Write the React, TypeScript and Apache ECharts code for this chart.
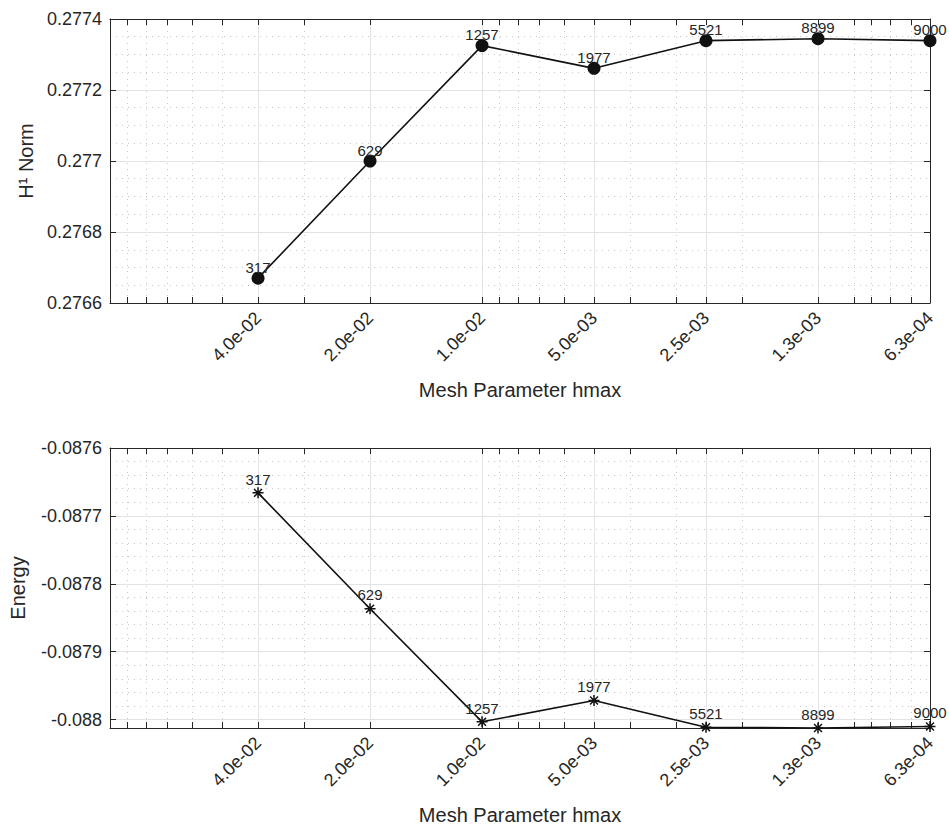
import React, { useEffect, useRef } from 'react';
import * as echarts from 'echarts';

// ---- data ----
const hmax = [0.04, 0.02, 0.01, 0.005, 0.0025, 0.00125, 0.000625];
const xTickLabels = ['4.0e-02', '2.0e-02', '1.0e-02', '5.0e-03', '2.5e-03', '1.3e-03', '6.3e-04'];
const dofs = [317, 629, 1257, 1977, 5521, 8899, 9000];
const h1Norm = [0.27667, 0.277, 0.277325, 0.277261, 0.277339, 0.2773445, 0.277339];
const energy = [-0.0876661, -0.0878368, -0.0880034, -0.087972, -0.0880113, -0.0880125, -0.0880103];
const xLimits = [0.000625, 0.1];
const normTicks = [0.2766, 0.2768, 0.277, 0.2772, 0.2774];
const energyTicks = [-0.088, -0.0879, -0.0878, -0.0877, -0.0876];

const FONT = '"Liberation Sans", Arial, Helvetica, sans-serif';
const TXT = '#262626';
const GRID_MAJOR = '#e3e3e3';
const GRID_MINOR = '#c8c8c8';
const DOT: number[] = [1, 5];

const lx = (v: number) => Math.log10(v);
const xMajors = hmax.map(lx);
// standard log10 minor positions within the x range, excluding the custom majors
const xMinors: number[] = [];
for (let e = -5; e <= 0; e++) {
  for (let m = 1; m <= 9; m++) {
    const v = m * Math.pow(10, e);
    if (v < xLimits[0] * 0.9999 || v > xLimits[1] * 1.0001) continue;
    const l = lx(v);
    if (xMajors.some((t) => Math.abs(t - l) < 1e-6)) continue;
    if (Math.abs(l - lx(xLimits[1])) < 1e-9) continue;
    xMinors.push(l);
  }
}
const xAllTicks = [...xMajors, ...xMinors];

const xLabelFmt = (v: number) => {
  const i = xMajors.findIndex((t) => Math.abs(t - v) < 1e-6);
  return i >= 0 ? xTickLabels[i] : '';
};
const yFmt = (v: number) => String(parseFloat(v.toFixed(7)));

const eMin = Math.min(...energy);
const eMax = energyTicks[energyTicks.length - 1];
const energyMinor: number[] = [];
for (let i = 0; i < energyTicks.length - 1; i++) {
  for (let k = 1; k < 5; k++) {
    energyMinor.push(energyTicks[i] + ((energyTicks[i + 1] - energyTicks[i]) * k) / 5);
  }
}

const asterisk =
  'path://M0,-5L0,5M-5,0L5,0M-3.6,-3.6L3.6,3.6M-3.6,3.6L3.6,-3.6';

function xAxesFor(g: number) {
  const base = {
    gridIndex: g,
    type: 'value' as const,
    min: lx(xLimits[0]),
    max: lx(xLimits[1]),
    inverse: true,
  };
  return [
    {
      ...base,
      position: 'bottom',
      axisLine: { show: true, onZero: false, lineStyle: { color: TXT, width: 1 } },
      axisTick: { show: true, inside: true, length: 6, customValues: xAllTicks, lineStyle: { color: TXT } },
      axisLabel: {
        show: true,
        customValues: xMajors,
        formatter: xLabelFmt,
        rotate: 45,
        margin: 12,
        fontSize: 18,
        color: TXT,
        fontFamily: FONT,
      },
      splitLine: { show: false },
      name: 'Mesh Parameter hmax',
      nameLocation: 'middle',
      nameGap: 77,
      nameTextStyle: { fontSize: 20, color: TXT, fontFamily: FONT },
      z: 5,
    },
    {
      ...base,
      position: 'bottom',
      axisLine: { show: false },
      axisTick: { show: false, customValues: xMajors },
      axisLabel: { show: false },
      splitLine: { show: true, lineStyle: { color: GRID_MAJOR, width: 1 } },
    },
    {
      ...base,
      position: 'bottom',
      axisLine: { show: false },
      axisTick: { show: false, customValues: xMinors },
      axisLabel: { show: false },
      splitLine: { show: true, lineStyle: { color: GRID_MINOR, width: 1, type: DOT } },
    },
    {
      ...base,
      position: 'top',
      axisLine: { show: true, onZero: false, lineStyle: { color: TXT, width: 1 } },
      axisTick: { show: true, inside: true, length: 6, customValues: xAllTicks, lineStyle: { color: TXT } },
      axisLabel: { show: false },
      splitLine: { show: false },
      z: 5,
    },
  ];
}

export default function App() {
  const ref = useRef<HTMLDivElement>(null);
  useEffect(() => {
    if (!ref.current) return;
    const chart = echarts.init(ref.current, undefined, { renderer: 'svg' });
    const option: any = {
      animation: false,
      backgroundColor: '#ffffff',
      grid: [
        { left: 110, right: 19, top: 19, height: 284 },
        { left: 110, right: 19, top: 448, height: 280 },
      ],
      xAxis: [...xAxesFor(0), ...xAxesFor(1)],
      yAxis: [
        // grid 0
        {
          gridIndex: 0,
          type: 'value',
          min: normTicks[0],
          max: normTicks[normTicks.length - 1],
          interval: 0.0002,
          position: 'left',
          axisLine: { show: true, onZero: false, lineStyle: { color: TXT } },
          axisTick: { show: true, inside: true, length: 6, lineStyle: { color: TXT } },
          axisLabel: { fontSize: 18, color: TXT, fontFamily: FONT, margin: 8, formatter: yFmt },
          splitLine: { show: true, lineStyle: { color: GRID_MAJOR } },
          minorTick: { show: false, splitNumber: 4 },
          minorSplitLine: { show: true, lineStyle: { color: GRID_MINOR, type: DOT } },
          name: 'H¹ Norm',
          nameLocation: 'middle',
          nameGap: 74,
          nameTextStyle: { fontSize: 20, color: TXT, fontFamily: FONT },
          z: 5,
        },
        {
          gridIndex: 0,
          type: 'value',
          min: normTicks[0],
          max: normTicks[normTicks.length - 1],
          interval: 0.0002,
          position: 'right',
          axisLine: { show: true, onZero: false, lineStyle: { color: TXT } },
          axisTick: { show: true, inside: true, length: 6, lineStyle: { color: TXT } },
          axisLabel: { show: false },
          splitLine: { show: false },
          z: 5,
        },
        // grid 1
        {
          gridIndex: 1,
          type: 'value',
          min: eMin,
          max: eMax,
          position: 'left',
          axisLine: { show: true, onZero: false, lineStyle: { color: TXT } },
          axisTick: { show: true, inside: true, length: 6, customValues: energyTicks, lineStyle: { color: TXT } },
          axisLabel: {
            customValues: energyTicks,
            fontSize: 18,
            color: TXT,
            fontFamily: FONT,
            margin: 8,
            formatter: yFmt,
          },
          splitLine: { show: true, lineStyle: { color: GRID_MAJOR } },
          name: 'Energy',
          nameLocation: 'middle',
          nameGap: 82,
          nameTextStyle: { fontSize: 20, color: TXT, fontFamily: FONT },
          z: 5,
        },
        {
          gridIndex: 1,
          type: 'value',
          min: eMin,
          max: eMax,
          position: 'left',
          axisLine: { show: false },
          axisTick: { show: false, customValues: energyMinor },
          axisLabel: { show: false },
          splitLine: { show: true, lineStyle: { color: GRID_MINOR, type: DOT } },
        },
        {
          gridIndex: 1,
          type: 'value',
          min: eMin,
          max: eMax,
          position: 'right',
          axisLine: { show: true, onZero: false, lineStyle: { color: TXT } },
          axisTick: { show: true, inside: true, length: 6, customValues: energyTicks, lineStyle: { color: TXT } },
          axisLabel: { show: false },
          splitLine: { show: false },
          z: 5,
        },
      ],
      series: [
        {
          type: 'line',
          xAxisIndex: 0,
          yAxisIndex: 0,
          data: hmax.map((h, i) => [lx(h), h1Norm[i]]),
          clip: false,
          symbol: 'circle',
          symbolSize: 13,
          itemStyle: { color: '#111111' },
          lineStyle: { color: '#111111', width: 1.6 },
          label: {
            show: true,
            position: 'top',
            distance: -3,
            formatter: (p: any) => String(dofs[p.dataIndex]),
            fontSize: 15,
            color: TXT,
            fontFamily: FONT,
          },
          z: 10,
        },
        {
          type: 'line',
          xAxisIndex: 4,
          yAxisIndex: 2,
          data: hmax.map((h, i) => [lx(h), energy[i]]),
          clip: false,
          symbol: asterisk,
          symbolSize: 11,
          itemStyle: { color: '#111111', borderColor: '#111111', borderWidth: 1.5 },
          lineStyle: { color: '#111111', width: 1.6 },
          label: {
            show: true,
            position: 'top',
            distance: 0,
            formatter: (p: any) => String(dofs[p.dataIndex]),
            fontSize: 15,
            color: TXT,
            fontFamily: FONT,
          },
          z: 10,
        },
      ],
    };
    chart.setOption(option);
    return () => chart.dispose();
  }, []);
  return (
    <div
      ref={ref}
      style={{ position: 'fixed', left: 0, top: 0, width: 949, height: 826, background: '#fff' }}
    />
  );
}
